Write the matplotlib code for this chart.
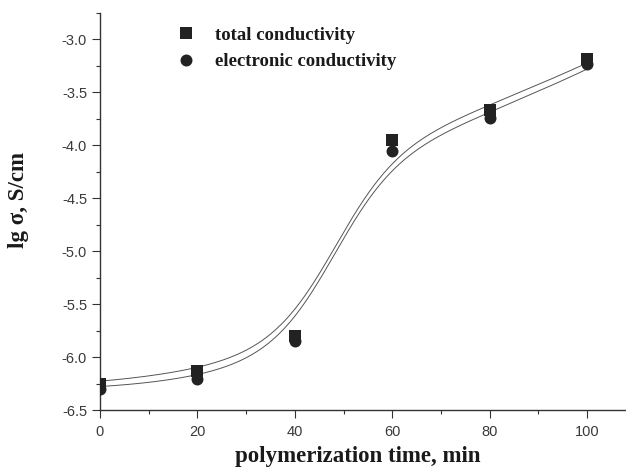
import numpy as np
import matplotlib
matplotlib.use("Agg")
import matplotlib.pyplot as plt
from matplotlib.ticker import MultipleLocator, FuncFormatter
from matplotlib.lines import Line2D

# ---- data ----
time_min = [0, 20, 40, 60, 80, 100]
total_cond = [-6.25, -6.13, -5.80, -3.95, -3.67, -3.18]
electronic_cond = [-6.30, -6.21, -5.85, -4.05, -3.74, -3.235]

# fitted-curve parameters (sigmoid + quadratic background)
total_fit = dict(x0=48.25, w=6.6, c=-6.2287, H=1.7791, b=0.00370, b2=8.575e-5)
electronic_fit = dict(x0=48.0, w=6.6, c=-6.2795, H=1.7907, b=0.00257, b2=9.525e-5)

x_label = "polymerization time, min"
y_label = "lg σ, S/cm"
legend_labels = ["total conductivity", "electronic conductivity"]


def fit_curve(x, p):
    return p["c"] + p["H"] / (1 + np.exp(-(x - p["x0"]) / p["w"])) + p["b"] * x + p["b2"] * x ** 2


W, H_px = 626, 468
fig = plt.figure(figsize=(W / 100, H_px / 100), dpi=100)
ax = fig.add_axes([100 / W, (H_px - 410) / H_px, (W - 100) / W, (410 - 13) / H_px])

ink = "#222222"
sq_ms, ci_ms = 8.0, 8.6
xx = np.linspace(min(time_min), max(time_min), 400)
ax.plot(xx, fit_curve(xx, total_fit), color="#555555", lw=0.7, zorder=2)
ax.plot(xx, fit_curve(xx, electronic_fit), color="#555555", lw=0.7, zorder=2)
ax.plot(time_min, total_cond, "s", color=ink, ms=sq_ms, mec=ink, mew=0, zorder=3)
ax.plot(time_min, electronic_cond, "o", color=ink, ms=ci_ms, mec=ink, mew=0, zorder=3)

ax.set_xlim(0, 108)
ax.set_ylim(-6.5, -2.75)
ax.xaxis.set_major_locator(MultipleLocator(20))
ax.xaxis.set_minor_locator(MultipleLocator(10))
ax.yaxis.set_major_locator(MultipleLocator(0.5))
ax.yaxis.set_minor_locator(MultipleLocator(0.25))

for s in ["top", "right"]:
    ax.spines[s].set_visible(False)
for s in ["left", "bottom"]:
    ax.spines[s].set_linewidth(1.0)
    ax.spines[s].set_color("#333333")

ax.tick_params(which="major", direction="out", length=5.8, width=0.8, color="#333333")
ax.tick_params(which="minor", direction="out", length=3.0, width=0.8, color="#333333")
ax.tick_params(axis="y", which="major", pad=3.5)
ax.tick_params(axis="x", which="major", pad=5)
ax.xaxis.set_major_formatter(FuncFormatter(lambda v, p: f"{v:.0f}"))
ax.yaxis.set_major_formatter(FuncFormatter(lambda v, p: f"{v:.1f}"))
for lab in ax.get_xticklabels() + ax.get_yticklabels():
    lab.set_fontfamily("Liberation Sans")
    lab.set_fontsize(10.5)
    lab.set_color("#3a3a3a")

serif_bold = dict(family="Liberation Serif", weight="bold", size=16.5, color="#1a1a1a")
ax.set_xlabel(x_label, **serif_bold)
ax.set_ylabel(y_label, **serif_bold)
ax.xaxis.set_label_coords((357.5 - 100) / 526, (410 - 446) / 397)
ax.yaxis.set_label_coords((29 - 100) / 526, (410 - 200) / 397)

handles = [
    Line2D([], [], ls="none", marker="s", ms=sq_ms, color=ink, mew=0),
    Line2D([], [], ls="none", marker="o", ms=ci_ms, color=ink, mew=0),
]
leg = ax.legend(handles, legend_labels, loc="upper left",
                frameon=False, borderpad=0, borderaxespad=0, handlelength=1.0,
                handletextpad=1.05, labelspacing=0.5,
                prop=dict(family="Liberation Serif", weight="bold", size=13.5))
leg.set_bbox_to_anchor((177 / W, (H_px - 26.5) / H_px), transform=fig.transFigure)
for t in leg.get_texts():
    t.set_color("#1a1a1a")

fig.savefig("out.png", dpi=100)
